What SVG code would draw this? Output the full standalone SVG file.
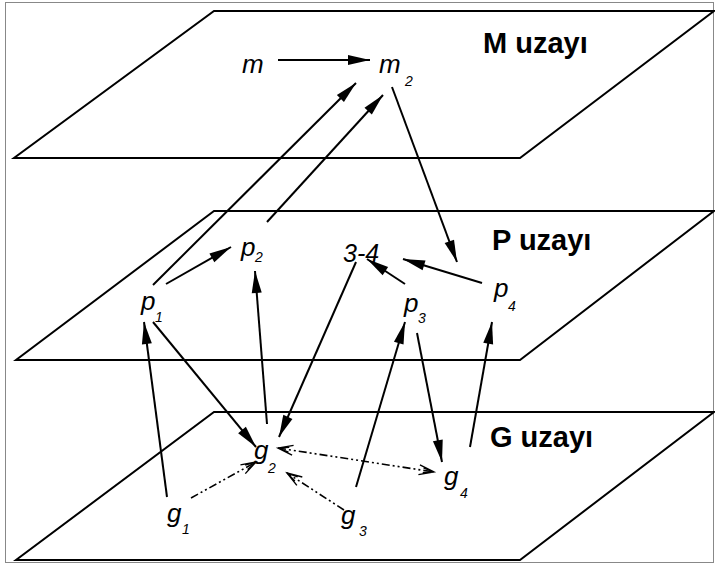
<svg xmlns="http://www.w3.org/2000/svg" width="715" height="565" viewBox="0 0 715 565">
<style>
.plane{fill:#fff;stroke:#000;stroke-width:2;stroke-linejoin:miter}
.title{font-family:"Liberation Sans",Arial,sans-serif;font-weight:bold;font-size:29px;fill:#000}
.v{font-family:"Liberation Sans",Arial,sans-serif;font-style:italic;font-size:26px;fill:#000}
.s{font-family:"Liberation Sans",Arial,sans-serif;font-style:italic;font-size:14px;fill:#000}
.a{stroke:#000;stroke-width:2;fill:none;marker-end:url(#head)}
.d{stroke:#000;stroke-width:1.6;fill:none;stroke-dasharray:8 3 2 3 2 3;marker-end:url(#open)}
</style>
<defs>
<marker id="head" markerUnits="userSpaceOnUse" markerWidth="23" markerHeight="11" refX="22" refY="5" orient="auto" overflow="visible">
<path d="M0,0 L22,5 L0,10 Z" fill="#000"/>
</marker>
<marker id="open" markerUnits="userSpaceOnUse" markerWidth="16" markerHeight="12" refX="15" refY="5" orient="auto-start-reverse" overflow="visible">
<path d="M0,0 L15,5 L0,10 M4,2.5 L15,5 L4,7.5" fill="none" stroke="#000" stroke-width="1.4"/>
</marker>
</defs>
<rect x="5.5" y="2.5" width="708" height="560" fill="#fff" stroke="#888" stroke-width="1"/>
<g id="plane-M">
<polygon class="plane" points="214,11 714,11 520,158 14,158"/>
<text class="title" x="483" y="53">M uzayı</text>
</g>
<g id="plane-P">
<polygon class="plane" points="214,211 714,211 520,360 16,360"/>
<text class="title" x="492" y="250">P uzayı</text>
</g>
<g id="plane-G">
<polygon class="plane" points="214,412 714,412 520,560 16,560"/>
<text class="title" x="490" y="447">G uzayı</text>
</g>
<g id="connectors">
<line class="a" x1="278" y1="60" x2="370" y2="60"/>
<line class="a" x1="153" y1="285" x2="356" y2="83"/>
<line class="a" x1="267" y1="222" x2="383" y2="95"/>
<line class="a" x1="392" y1="87" x2="457" y2="262"/>
<line class="a" x1="166" y1="284" x2="231" y2="247"/>
<line class="a" x1="405" y1="284" x2="367" y2="259"/>
<line class="a" x1="482" y1="283" x2="403" y2="259"/>
<line class="a" x1="167" y1="497" x2="144" y2="322"/>
<line class="a" x1="153" y1="322" x2="256" y2="447"/>
<line class="a" x1="267" y1="424" x2="255" y2="271"/>
<line class="a" x1="356" y1="262" x2="279" y2="437"/>
<line class="a" x1="356" y1="487" x2="405" y2="322"/>
<line class="a" x1="417" y1="333" x2="442" y2="462"/>
<line class="a" x1="470" y1="447" x2="492" y2="322"/>
<line class="d" x1="191" y1="498" x2="256" y2="462"/>
<line class="d" x1="344" y1="510" x2="287" y2="473"/>
<line class="d" x1="278" y1="448" x2="434" y2="472" style="marker-start:url(#open)"/>
</g>
<g id="m"><text class="v" x="242" y="73">m</text></g>
<g id="m2"><text class="v" x="379" y="73">m</text><text class="s" x="405" y="86">2</text></g>
<g id="p1"><text class="v" x="141" y="310">p</text><text class="s" x="155" y="322">1</text></g>
<g id="p2"><text class="v" x="241" y="256">p</text><text class="s" x="255" y="262">2</text></g>
<g id="n34"><text class="v" x="343" y="262" style="font-size:25px">3-4</text></g>
<g id="p3"><text class="v" x="404" y="312">p</text><text class="s" x="418" y="323">3</text></g>
<g id="p4"><text class="v" x="494" y="297">p</text><text class="s" x="508" y="311">4</text></g>
<g id="g1"><text class="v" x="167" y="522">g</text><text class="s" x="182" y="534">1</text></g>
<g id="g2"><text class="v" x="254" y="459">g</text><text class="s" x="268" y="473">2</text></g>
<g id="g3"><text class="v" x="341" y="524">g</text><text class="s" x="359" y="536">3</text></g>
<g id="g4"><text class="v" x="444" y="485">g</text><text class="s" x="460" y="498">4</text></g>
</svg>
